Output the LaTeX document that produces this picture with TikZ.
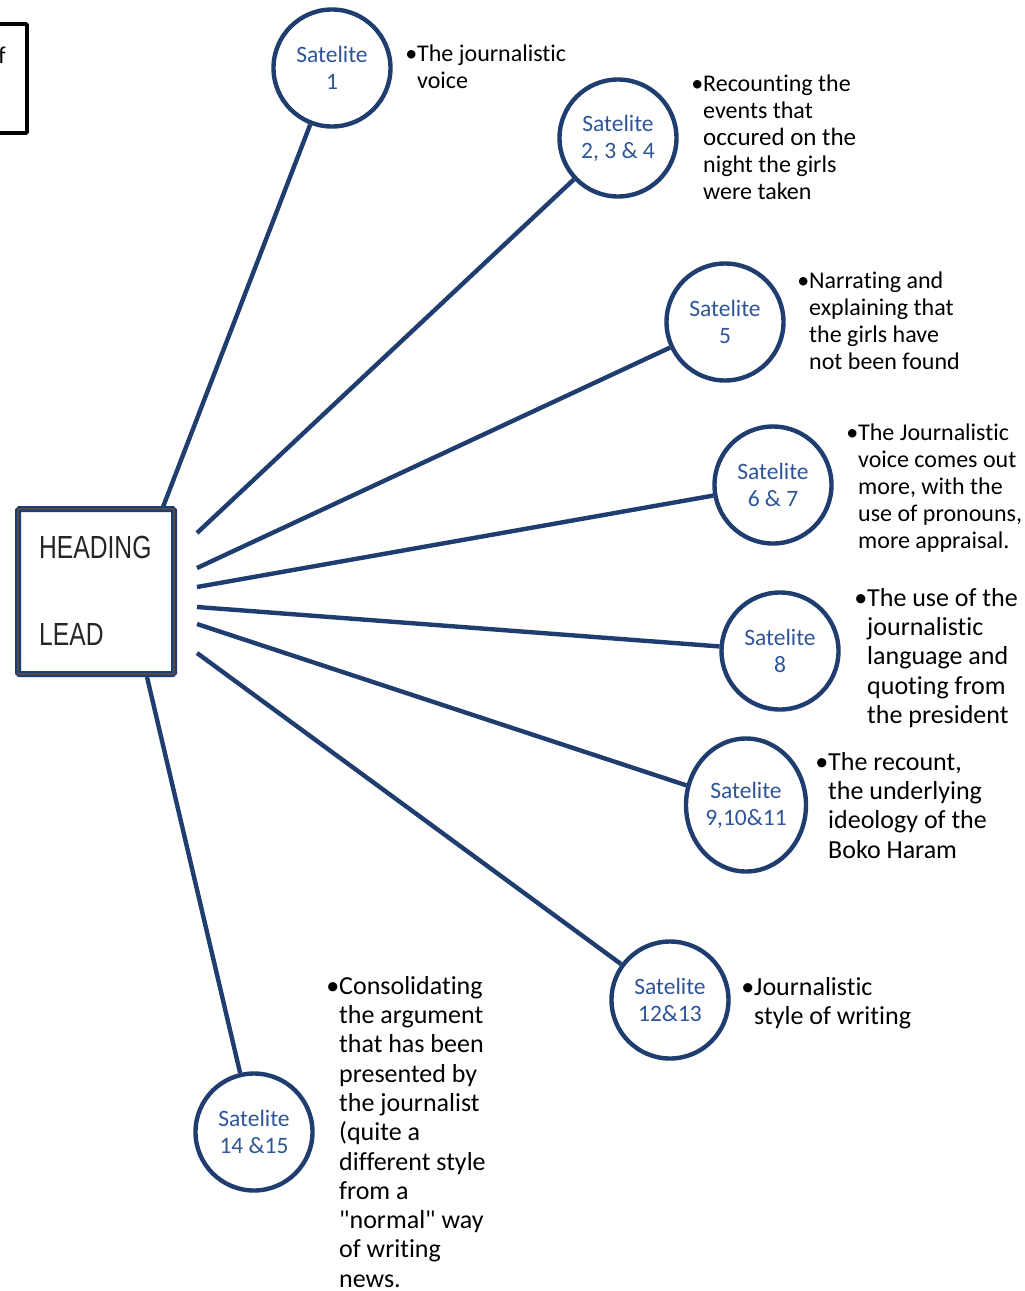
\documentclass[tikz,border=0pt]{standalone}
\usepackage{fontspec}
\setmainfont{Carlito}[Ligatures=NoCommon]
\newfontfamily\headfont{Liberation Sans}
\usetikzlibrary{calc,shapes.geometric}
\definecolor{satline}{RGB}{31,61,110}
\definecolor{sattext}{RGB}{47,85,151}
\tikzset{
  satellite/.style={circle, draw=satline, line width=4.4pt, fill=white, minimum size=117pt,
    inner sep=0pt, align=center, text=sattext, font=\fontsize{23.5}{27}\selectfont},
  satoval/.style={satellite, ellipse, minimum width=120pt, minimum height=133pt},
  note/.style={anchor=north west, align=left, inner sep=0pt, font=\fontsize{24}{27}\selectfont},
  bignote/.style={note, font=\fontsize{26}{29.3}\selectfont},
  spoke/.style={draw=satline, line width=4.4pt},
  hubbox/.style={draw=satline, line width=6pt, rounded corners=1.5pt, fill=white,
    minimum width=156pt, minimum height=165pt, inner sep=0pt},
  headtext/.style={anchor=base west, inner sep=0pt, text=black!85,
    font=\headfont\fontsize{32}{32}\selectfont}
}

\begin{document}
\begin{tikzpicture}[x=1pt, y=-1pt]
  \clip (0,0) rectangle (1025,1291);
  \fill[white] (0,0) rectangle (1025,1291);

  % box cut off at the left edge
  \draw[line width=3.8pt, rounded corners=1pt] (-20,24) rectangle (27,133);
  \node[note, anchor=base east] (cut) at (6,63) {f};

  % start points of the spokes
  \coordinate (a1) at (163,507);
  \coordinate (a2) at (197,533);
  \coordinate (a3) at (197,568);
  \coordinate (a4) at (197,587);
  \coordinate (a5) at (197,607);
  \coordinate (a6) at (197,624);
  \coordinate (a7) at (197,653);
  \coordinate (a8) at (147,677);

  \node[satellite] (sat1) at (332,68) {Satelite\\1};
  \node[satellite] (sat2) at (618,138) {Satelite\\2, 3 \& 4};
  \node[satellite] (sat3) at (725,322) {Satelite\\5};
  \node[satellite] (sat4) at (773,485) {Satelite\\6 \& 7};
  \node[satellite] (sat5) at (780,651) {Satelite\\8};
  \node[satoval] (sat6) at (746,805) {Satelite\\9,10\&11};
  \node[satellite] (sat7) at (670,1000) {Satelite\\12\&13};
  \node[satellite] (sat8) at (254,1132) {Satelite\\14 \&15};

  \foreach \i in {1,...,8}
    \draw[spoke] (a\i) -- (sat\i);

  % heading / lead box
  \node[hubbox] (hub) at (96,591.5) {};
  \draw[black!70, line width=1.2pt] ($(hub.north west)+(3,3)$) rectangle ($(hub.south east)+(-3,-3)$);
  \node[headtext] (head) at (39,558) {\scalebox{0.77}[1]{HEADING}};
  \node[headtext] (lead) at (39,645) {\scalebox{0.77}[1]{LEAD}};

  % bullet notes
  \node[note] (n1) at (417,45) {\llap{\textbullet}The journalistic\\voice};
  \node[note] (n2) at (703,75) {\llap{\textbullet}Recounting the\\events that\\{\fontsize{25}{27}\selectfont occured on the}\\night the girls\\were taken};
  \node[note] (n3) at (809,272) {\llap{\textbullet}Narrating and\\explaining that\\the girls have\\not been found};
  \node[note] (n4) at (858,424) {\llap{\textbullet}The Journalistic\\voice comes out\\more, with the\\use of pronouns,\\more appraisal.};
  \node[bignote] (n5) at (867,588) {\llap{\textbullet}The use of the\\journalistic\\language and\\quoting from\\the president};
  \node[bignote] (n6) at (828,752) {\llap{\textbullet}The recount,\\the underlying\\ideology of the\\Boko Haram};
  \node[bignote] (n7) at (754,977) {\llap{\textbullet}Journalistic\\style of writing};
  \node[bignote] (n8) at (339,976) {\llap{\textbullet}Consolidating\\the argument\\that has been\\presented by\\the journalist\\(quite a\\different style\\from a\\\textquotedbl normal\textquotedbl{} way\\of writing\\news.};
\end{tikzpicture}
\end{document}
